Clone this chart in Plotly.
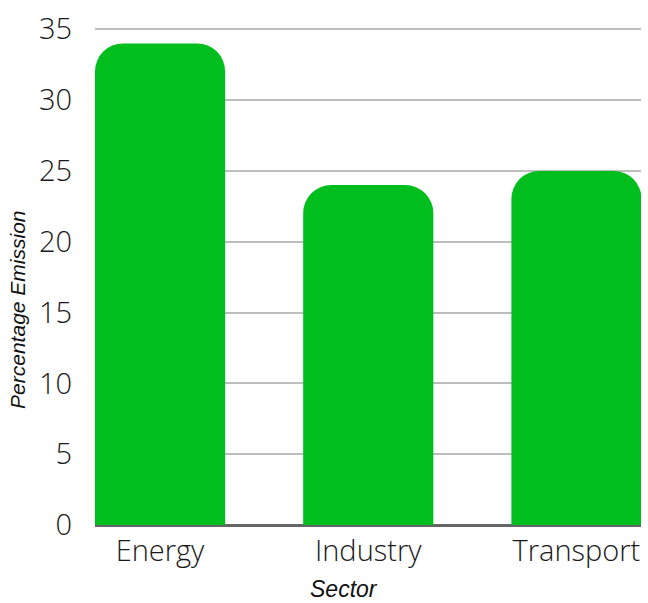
import plotly.graph_objects as go

sectors = ["Energy", "Industry", "Transport"]
emission = [34, 24, 25]
y_ticks = [0, 5, 10, 15, 20, 25, 30, 35]

fig = go.Figure(go.Bar(
    x=sectors, y=emission,
    marker=dict(color="#00BE1E", line=dict(width=0)),
    width=0.625,
))

fig.update_layout(
    width=648, height=603,
    margin=dict(l=95, r=7, t=25, b=78),
    paper_bgcolor="white", plot_bgcolor="white",
    barcornerradius=28,
    showlegend=False,
    xaxis=dict(
        range=[-0.3125, 2.31],
        showgrid=False,
        tickfont=dict(family="Open Sans", size=29, color="#1a1a1a", weight=300),
        ticklabelstandoff=6,
        ticks="",
        showline=False,
        zeroline=False,
    ),
    yaxis=dict(
        range=[0, 35.3],
        tickvals=y_ticks,
        showgrid=True, gridcolor="#BEBEBE", gridwidth=2,
        zeroline=True, zerolinecolor="#666666", zerolinewidth=3,
        tickfont=dict(family="Open Sans", size=29, color="#1a1a1a", weight=300),
        ticklabelstandoff=22,
        showline=False,
        ticks="",
    ),
    annotations=[
        dict(text="Sector", xref="paper", yref="paper", x=0.456, y=-0.128,
             xanchor="center", yanchor="middle", showarrow=False,
             font=dict(family="Liberation Sans", size=23, color="#111", style="italic")),
        dict(text="Percentage Emission", xref="paper", yref="paper", x=-0.143, y=0.43,
             xanchor="center", yanchor="middle", showarrow=False, textangle=-90,
             font=dict(family="Liberation Sans", size=21, color="#111", style="italic")),
    ],
)

fig.write_html("out.html")
